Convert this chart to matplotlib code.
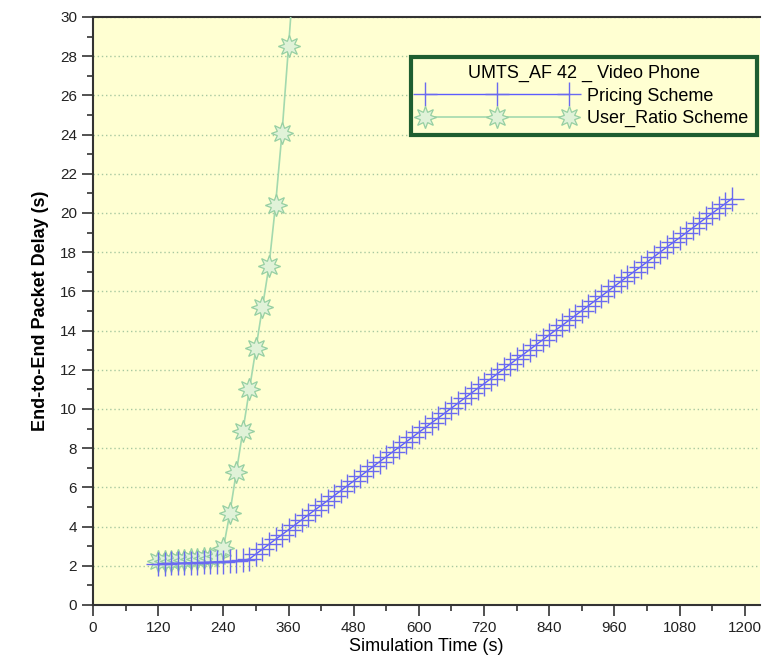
import numpy as np
import matplotlib
matplotlib.use("Agg")
import matplotlib.pyplot as plt
from matplotlib.ticker import MultipleLocator

# Datos (tiempo en s, retardo en s)
t_pricing = [120, 132, 144, 156, 168, 180, 192, 204, 216, 228, 240, 252, 264, 276, 288,
             300, 312, 324, 336, 348, 360, 372, 384, 396, 408, 420, 432, 444, 456, 468,
             480, 492, 504, 516, 528, 540, 552, 564, 576, 588, 600, 612, 624, 636, 648,
             660, 672, 684, 696, 708, 720, 732, 744, 756, 768, 780, 792, 804, 816, 828,
             840, 852, 864, 876, 888, 900, 912, 924, 936, 948, 960, 972, 984, 996, 1008,
             1020, 1032, 1044, 1056, 1068, 1080, 1092, 1104, 1116, 1128, 1140, 1152, 1164, 1176]
d_pricing = [2.10, 2.11, 2.12, 2.12, 2.14, 2.15, 2.16, 2.17, 2.18, 2.20, 2.21, 2.23, 2.25, 2.28, 2.35,
             2.60, 2.85, 3.10, 3.35, 3.59, 3.84, 4.09, 4.34, 4.59, 4.84, 5.08, 5.33, 5.58, 5.83, 6.08,
             6.33, 6.57, 6.82, 7.07, 7.32, 7.57, 7.82, 8.06, 8.31, 8.56, 8.81, 9.06, 9.31, 9.55, 9.80,
             10.05, 10.30, 10.55, 10.80, 11.05, 11.29, 11.54, 11.79, 12.04, 12.29, 12.54, 12.78, 13.03, 13.28, 13.53,
             13.78, 14.03, 14.27, 14.52, 14.77, 15.02, 15.27, 15.52, 15.76, 16.01, 16.26, 16.51, 16.76, 17.01, 17.25,
             17.50, 17.75, 18.00, 18.25, 18.50, 18.74, 18.99, 19.24, 19.49, 19.74, 19.99, 20.23, 20.48, 20.73]

t_ratio = [120, 132, 144, 156, 168, 180, 192, 204, 216, 228, 240,
           252, 264, 276, 288, 300, 312, 324, 336, 348, 360, 372]
d_ratio = [2.22, 2.26, 2.22, 2.28, 2.30, 2.33, 2.36, 2.38, 2.42, 2.50, 2.90,
           4.70, 6.80, 8.90, 11.00, 13.10, 15.20, 17.30, 20.40, 24.10, 28.50, 33.00]

plt.rcParams["font.family"] = ["Liberation Sans", "DejaVu Sans"]

fig = plt.figure(figsize=(7.64, 6.63), dpi=100)
ax = fig.add_axes([93/764, 1-605/663, 667/764, 588/663])
ax.set_facecolor("#ffffd2")

ax.plot(t_ratio, d_ratio, color="#a3d9ae", lw=1.2, marker=(8, 1, 0), ms=16,
        mfc="#e0f2d8", mec="#96cfa2", mew=0.9, label="User_Ratio Scheme", zorder=3)
ax.plot(t_pricing, d_pricing, color="#5c5cff", lw=1.0, marker="+", ms=17,
        mec="#6a6af0", mew=1.0, label="Pricing Scheme", zorder=4)

ax.set_xlim(0, 1228)
ax.set_ylim(0, 30)
ax.xaxis.set_major_locator(MultipleLocator(120))
ax.xaxis.set_minor_locator(MultipleLocator(60))
ax.yaxis.set_major_locator(MultipleLocator(2))
ax.yaxis.set_minor_locator(MultipleLocator(1))
ax.tick_params(which="major", direction="out", length=8, width=1.2, color="#333333",
               labelsize=11, labelcolor="#222222")
ax.tick_params(which="minor", direction="out", length=4, width=1.2, color="#333333")
ax.grid(True, axis="y", which="major", ls=(0, (1, 2)), color="#a8c8a0", lw=1)
ax.set_axisbelow(True)
ax.spines["right"].set_visible(False)
for s in ["left", "bottom", "top"]:
    ax.spines[s].set_color("#333333")
    ax.spines[s].set_linewidth(1.5)

ax.set_xlabel("Simulation Time (s)", fontsize=13, labelpad=2)
ax.set_ylabel("End-to-End Packet Delay (s)", fontsize=13, fontweight="bold", labelpad=8)

h, l = ax.get_legend_handles_labels()
leg = ax.legend(h[::-1], l[::-1], title="UMTS_AF 42 _ Video Phone", loc="upper right",
                bbox_to_anchor=(0.995, 0.932), numpoints=3, handlelength=8.6,
                fontsize=13, title_fontsize=13, frameon=True, fancybox=False,
                borderpad=0.45, labelspacing=0.3, handletextpad=0.7, borderaxespad=0)
leg.get_frame().set_facecolor("#ffffd2")
leg.get_frame().set_edgecolor("#1e5e30")
leg.get_frame().set_linewidth(3)
leg.get_frame().set_alpha(1)

fig.savefig("out.png", dpi=100)
